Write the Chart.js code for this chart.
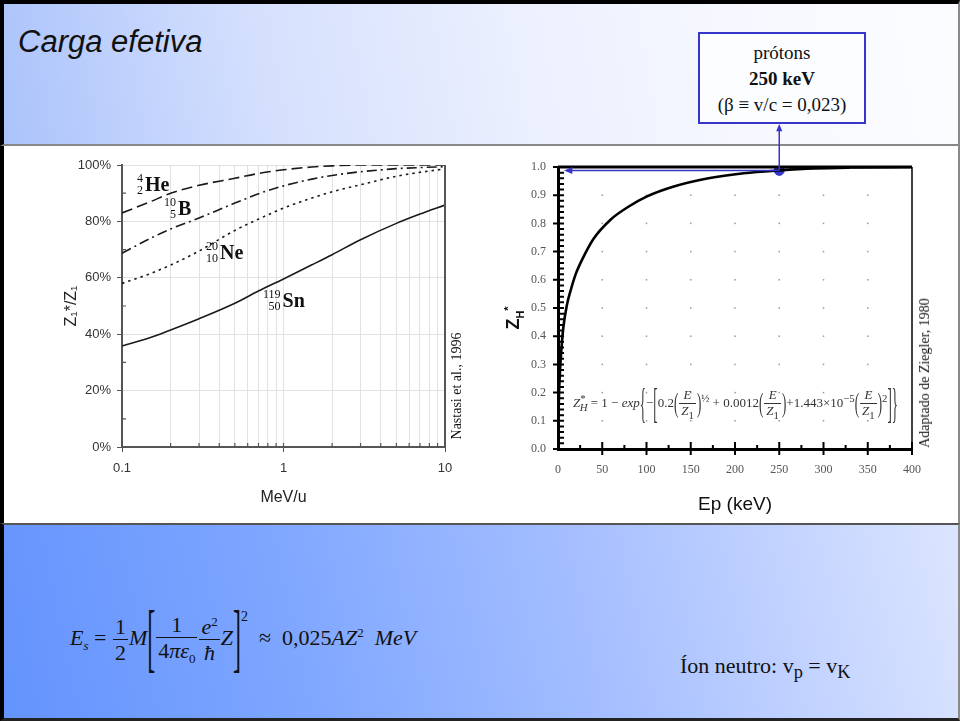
<!DOCTYPE html>
<html>
<head>
<meta charset="utf-8">
<script src="https://cdn.jsdelivr.net/npm/chart.js@4.4.1/dist/chart.umd.min.js"></script>
<style>
  html, body { margin: 0; padding: 0; background: #fff; }
  #slide { position: relative; width: 960px; height: 721px; overflow: hidden; font-family: "Liberation Serif", serif; color: #111; }
  .band { position: absolute; left: 0; width: 960px; box-sizing: border-box; border-left: 4px solid #000; border-right: 2px solid #8a8a8a; }
  #top { top: 0; height: 146px; border-top: 4px solid #000; border-bottom: 2px solid #888;
    background: linear-gradient(80deg, #abc3fb 0%, #d5e0fd 28%, #ecf0fe 55%, #f8f9ff 80%, #fbfcff 100%); }
  #mid { top: 146px; height: 378px; background: #fff; }
  #bot { top: 523px; height: 198px; border-top: 2px solid #555; border-bottom: 3px solid #222;
    background: linear-gradient(78deg, #6393fd 0%, #7ea6ff 30%, #a6bfff 62%, #dce5ff 100%); }
  #title { position: absolute; left: 18px; top: 24px; font: italic 31px "Liberation Sans", Arial, sans-serif; color: #111; }
  #protonBox { position: absolute; left: 698px; top: 32px; width: 168px; height: 92px; box-sizing: border-box;
    border: 2px solid #3636c8; background: #fcfdff; text-align: center; font-size: 19px; line-height: 26px; padding-top: 6px; z-index: 3; }
  #leftWrap { position: absolute; left: 0; top: 146px; width: 480px; height: 377px; z-index: 1; }
  #rightWrap { position: absolute; left: 490px; top: 0; width: 470px; height: 523px; z-index: 2; }
  .rot { position: absolute; transform: translate(-50%, -50%) rotate(-90deg); white-space: nowrap; z-index: 4; }
  .nuc { position: absolute; font: bold 20px "Liberation Serif", serif; display: flex; align-items: center; z-index: 4; }
  .pre { display: inline-flex; flex-direction: column; align-items: flex-end; font-size: 12px; font-weight: normal; line-height: 12px; margin-right: 2px; }
  .eq { position: absolute; white-space: nowrap; z-index: 4; }
  .fr { display: inline-block; vertical-align: middle; text-align: center; margin: 0 1px; }
  .fr > span { display: block; padding: 0 2px; line-height: 1.15; }
  .fr > .d { border-top: 1px solid currentColor; }
  .br { display: inline-block; vertical-align: middle; font-weight: 100; }
</style>
</head>
<body>
<div id="slide">
  <div id="top" class="band"></div>
  <div id="mid" class="band"></div>
  <div id="bot" class="band"></div>

  <div id="title">Carga efetiva</div>
  <div id="protonBox">prótons<br><b>250 keV</b><br>(β ≡ v/c = 0,023)</div>

  <div id="leftWrap"><canvas id="chargeChart"></canvas></div>
  <div id="rightWrap"><canvas id="protonChart"></canvas></div>

  <div class="nuc" style="left:137px;top:172px"><span class="pre"><span>4</span><span>2</span></span>He</div>
  <div class="nuc" style="left:164px;top:196px"><span class="pre"><span>10</span><span>5</span></span>B</div>
  <div class="nuc" style="left:206px;top:240px"><span class="pre"><span>20</span><span>10</span></span>Ne</div>
  <div class="nuc" style="left:263px;top:288px"><span class="pre"><span>119</span><span>50</span></span>Sn</div>

  <div class="rot" style="left:457px;top:386px;font-size:14px">Nastasi et al., 1996</div>
  <div class="rot" style="left:925px;top:373px;font-size:14px">Adaptado de Ziegler, 1980</div>
  <div class="rot" style="left:514px;top:318px;font:bold 18px 'Liberation Sans',Arial,sans-serif">Z<sub style="font-size:11px">H</sub><sup style="font-size:11px">*</sup></div>

  <div class="eq" style="left:573px;top:388px;font-size:13px;color:#333">
    <i>Z</i><sup>*</sup><sub style="margin-left:-6px"><i>H</i></sub> = 1 − <i>exp</i><span class="br" style="transform:scaleY(3.2)">{</span>−<span class="br" style="transform:scaleY(3.2)">[</span>0.2<span class="br" style="transform:scaleY(2.1)">(</span><span class="fr"><span><i>E</i></span><span class="d"><i>Z</i><sub>1</sub></span></span><span class="br" style="transform:scaleY(2.1)">)</span><sup>½</sup> + 0.0012<span class="br" style="transform:scaleY(2.1)">(</span><span class="fr"><span><i>E</i></span><span class="d"><i>Z</i><sub>1</sub></span></span><span class="br" style="transform:scaleY(2.1)">)</span>+1.443×10<sup>−5</sup><span class="br" style="transform:scaleY(2.1)">(</span><span class="fr"><span><i>E</i></span><span class="d"><i>Z</i><sub>1</sub></span></span><span class="br" style="transform:scaleY(2.1)">)</span><sup>2</sup><span class="br" style="transform:scaleY(3.2)">]</span><span class="br" style="transform:scaleY(3.2)">}</span>
  </div>

  <div class="eq" style="left:70px;top:612px;font-size:22px">
    <i>E</i><sub style="font-size:13px"><i>s</i></sub> = <span class="fr"><span>1</span><span class="d">2</span></span><i>M</i><span class="br" style="transform:scaleY(3.2);font-size:24px">[</span><span class="fr"><span>1</span><span class="d">4<i>πε</i><sub style="font-size:13px">0</sub></span></span><span class="fr"><span><i>e</i><sup style="font-size:13px">2</sup></span><span class="d"><i>ħ</i></span></span><i>Z</i><span class="br" style="transform:scaleY(3.2);font-size:24px">]</span><sup style="font-size:14px;position:relative;top:-16px">2</sup>&nbsp; ≈&nbsp; 0,025<i>AZ</i><sup style="font-size:13px">2</sup>&nbsp; <i>MeV</i>
  </div>

  <div class="eq" style="left:680px;top:653px;font-size:22px">Íon neutro: v<sub>p</sub> = v<sub>K</sub></div>
</div>

<script>
// left panel: effective charge fraction vs energy per nucleon
const energyMeV = [0.1, 0.15, 0.2, 0.3, 0.5, 0.7, 1, 1.5, 2, 3, 5, 7, 10];
const heliumPct = [83, 87, 90, 92.8, 95.3, 97, 98.3, 99.3, 99.7, 100, 100, 100, 100];
const boronPct = [68.7, 74, 77.3, 81.2, 86.5, 89.8, 92.6, 95, 96.3, 97.6, 98.7, 99.1, 99.4];
const neonPct = [58, 61.5, 64.5, 69.5, 76.8, 80.8, 84.7, 88.3, 90.5, 93, 96, 97.4, 98.6];
const tinPct = [35.8, 38.8, 41.5, 45.5, 51, 55.3, 59.6, 64.6, 68.2, 73.5, 79.3, 82.6, 85.8];
const logTickValues = [0.1, 0.2, 0.3, 0.4, 0.5, 0.6, 0.7, 0.8, 0.9, 1, 2, 3, 4, 5, 6, 7, 8, 9, 10];
const logTickLabels = [0.1, 1, 10];

// right panel: proton effective charge vs energy
const protonEnergyKeV = [0, 1, 2, 4, 6, 10, 15, 20, 27, 40, 60, 80, 100, 130, 170, 210, 250, 290, 330, 400];
const effChargeH = [0, 0.18, 0.26, 0.36, 0.43, 0.51, 0.57, 0.62, 0.67, 0.745, 0.815, 0.86, 0.895, 0.93, 0.96, 0.978, 0.988, 0.995, 0.998, 1.0];
const markedEnergyKeV = [250];
const markedCharge = [0.988];

Chart.defaults.font.family = '"Liberation Sans", Arial, sans-serif';
Chart.defaults.animation = false;

function toPoints(xs, ys) {
  return xs.map((x, i) => ({ x, y: ys[i] }));
}

function curve(values, dash) {
  return {
    data: toPoints(energyMeV, values),
    borderColor: "#1a1a1a",
    borderWidth: 1.6,
    borderDash: dash,
    pointRadius: 0,
    cubicInterpolationMode: "monotone",
  };
}

const leftFrame = {
  id: "leftFrame",
  afterDatasetsDraw(chart) {
    const { ctx, chartArea: a, scales } = chart;
    ctx.save();
    ctx.strokeStyle = "#555";
    ctx.lineWidth = 2;
    ctx.beginPath();
    ctx.moveTo(a.right, a.top);
    ctx.lineTo(a.right, a.bottom);
    ctx.stroke();
    ctx.lineWidth = 1.2;
    ctx.beginPath();
    logTickValues.forEach((v) => {
      const px = scales.x.getPixelForValue(v);
      ctx.moveTo(px, a.bottom);
      ctx.lineTo(px, a.bottom - 4);
    });
    for (let v = 10; v < 100; v += 20) {
      const py = scales.y.getPixelForValue(v);
      ctx.moveTo(a.left, py);
      ctx.lineTo(a.left + 4, py);
    }
    ctx.stroke();
    ctx.restore();
  },
};

new Chart(document.getElementById("chargeChart"), {
  type: "line",
  data: {
    datasets: [
      curve(heliumPct, [11, 5]),
      curve(boronPct, [10, 4, 2, 4]),
      curve(neonPct, [2.5, 4]),
      curve(tinPct, []),
    ],
  },
  options: {
    responsive: true,
    maintainAspectRatio: false,
    layout: { padding: { left: 58, top: 19, right: 35, bottom: 14 } },
    plugins: { legend: { display: false }, tooltip: { enabled: false } },
    scales: {
      x: {
        type: "logarithmic",
        min: 0.1,
        max: 10,
        afterBuildTicks: (s) => {
          s.ticks = logTickValues.map((v) => ({ value: v }));
        },
        afterFit: (s) => { s.height = 62; },
        ticks: {
          autoSkip: false,
          maxRotation: 0,
          padding: 9,
          color: "#333",
          font: { size: 13 },
          callback: (v) => (logTickLabels.includes(v) ? String(v) : ""),
        },
        grid: {
          color: "#e2e2e2",
          tickLength: 5,
          tickColor: (c) => (c.tick && logTickLabels.includes(c.tick.value) ? "#555" : "rgba(0,0,0,0)"),
        },
        border: { color: "#555", width: 2 },
        title: { display: true, text: "MeV/u", color: "#222", font: { size: 16 }, padding: { top: 4, bottom: 2 } },
      },
      y: {
        min: 0,
        max: 100,
        afterFit: (s) => { s.width = 64; },
        ticks: { stepSize: 20, padding: 6, color: "#333", font: { size: 13 }, callback: (v) => v + "%" },
        grid: { color: "#e2e2e2", tickLength: 5, tickColor: "#555" },
        border: { color: "#555", width: 2 },
        title: { display: true, text: "Z₁*/Z₁", color: "#222", font: { size: 16 }, padding: { top: 4, bottom: 4 } },
      },
    },
  },
  plugins: [leftFrame],
});

function arrowHead(ctx, x, y, angle, size) {
  ctx.beginPath();
  ctx.moveTo(x, y);
  ctx.lineTo(x - size * Math.cos(angle - 0.4), y - size * Math.sin(angle - 0.4));
  ctx.lineTo(x - size * Math.cos(angle + 0.4), y - size * Math.sin(angle + 0.4));
  ctx.closePath();
  ctx.fill();
}

const protonFrame = {
  id: "protonFrame",
  beforeDatasetsDraw(chart) {
    const { ctx, scales: { x, y } } = chart;
    ctx.save();
    ctx.fillStyle = "#9a9a9a";
    for (let ex = 50; ex < 400; ex += 50) {
      for (let k = 1; k < 10; k++) {
        ctx.fillRect(x.getPixelForValue(ex) - 0.75, y.getPixelForValue(k / 10) - 0.75, 1.5, 1.5);
      }
    }
    ctx.restore();
  },
  afterDatasetsDraw(chart) {
    const { ctx, chartArea: a, scales: { x, y } } = chart;
    ctx.save();
    ctx.strokeStyle = "#000";
    // frame
    ctx.lineWidth = 3;
    ctx.beginPath();
    ctx.moveTo(a.left, a.top);
    ctx.lineTo(a.right, a.top);
    ctx.stroke();
    ctx.lineWidth = 1.5;
    ctx.beginPath();
    ctx.moveTo(a.right, a.top);
    ctx.lineTo(a.right, a.bottom);
    ctx.stroke();
    // ticks on the y axis
    ctx.beginPath();
    for (let k = 0; k <= 50; k++) {
      const py = y.getPixelForValue(k / 50);
      const major = k % 5 === 0;
      ctx.moveTo(a.left - (major ? 5 : 0), py);
      ctx.lineTo(a.left + 6, py);
    }
    ctx.lineWidth = 2;
    ctx.stroke();
    // ticks on the x axis
    ctx.beginPath();
    for (let ex = 25; ex <= 400; ex += 25) {
      const px = x.getPixelForValue(ex);
      const major = ex % 50 === 0;
      ctx.moveTo(px, a.bottom + (major ? 6 : 0));
      ctx.lineTo(px, a.bottom - (major ? 7 : 4));
    }
    ctx.stroke();

    // blue pointer from the 250 keV point
    const pt = chart.getDatasetMeta(1).data[0];
    const box = document.getElementById("protonBox");
    const wrap = document.getElementById("rightWrap");
    const boxBottom = box.offsetTop + box.offsetHeight - wrap.offsetTop;
    const axisX = x.getPixelForValue(0) + 6;
    ctx.strokeStyle = "#3535cc";
    ctx.fillStyle = "#3535cc";
    ctx.lineWidth = 1.5;
    ctx.beginPath();
    ctx.moveTo(pt.x, pt.y);
    ctx.lineTo(axisX + 6, pt.y);
    ctx.moveTo(pt.x, pt.y);
    ctx.lineTo(pt.x, boxBottom + 6);
    ctx.stroke();
    arrowHead(ctx, axisX, pt.y, Math.PI, 9);
    arrowHead(ctx, pt.x, boxBottom, -Math.PI / 2, 8);
    ctx.restore();
  },
};

new Chart(document.getElementById("protonChart"), {
  type: "line",
  data: {
    datasets: [
      {
        data: toPoints(protonEnergyKeV, effChargeH),
        borderColor: "#000",
        borderWidth: 2.6,
        pointRadius: 0,
        cubicInterpolationMode: "monotone",
      },
      {
        type: "scatter",
        data: toPoints(markedEnergyKeV, markedCharge),
        pointRadius: 5,
        backgroundColor: "#3535cc",
        borderColor: "#3535cc",
      },
    ],
  },
  options: {
    responsive: true,
    maintainAspectRatio: false,
    layout: { padding: { left: 8, top: 167, right: 48, bottom: 0 } },
    plugins: { legend: { display: false }, tooltip: { enabled: false } },
    scales: {
      x: {
        type: "linear",
        min: 0,
        max: 400,
        afterFit: (s) => { s.height = 74; },
        ticks: { stepSize: 50, padding: 14, color: "#555", font: { family: '"Liberation Serif", serif', size: 12 } },
        grid: { drawOnChartArea: false, drawTicks: false },
        border: { color: "#000", width: 3 },
        title: { display: true, text: "Ep (keV)", color: "#111", font: { size: 19 }, padding: { top: 2, bottom: 7 } },
      },
      y: {
        min: 0,
        max: 1,
        afterFit: (s) => { s.width = 60; },
        ticks: { stepSize: 0.1, padding: 12, color: "#555", font: { family: '"Liberation Serif", serif', size: 12 }, callback: (v) => v.toFixed(1) },
        grid: { drawOnChartArea: false, drawTicks: false },
        border: { color: "#000", width: 3 },
      },
    },
  },
  plugins: [protonFrame],
});
</script>
</body>
</html>
